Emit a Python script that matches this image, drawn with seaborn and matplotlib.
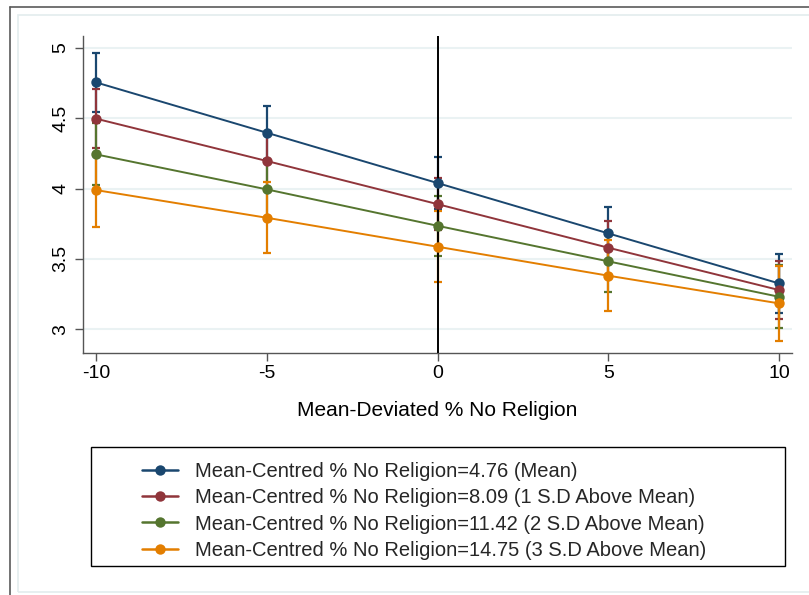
import matplotlib
matplotlib.use("Agg")
import matplotlib.pyplot as plt
from matplotlib.lines import Line2D
from matplotlib.patches import Rectangle
import numpy as np
import pandas as pd
import seaborn as sns

# Predicted values at each level of mean-deviated % no religion
x_levels = [-10, -5, 0, 5, 10]
series_labels = [
    "Mean-Centred % No Religion=4.76 (Mean)",
    "Mean-Centred % No Religion=8.09 (1 S.D Above Mean)",
    "Mean-Centred % No Religion=11.42 (2 S.D Above Mean)",
    "Mean-Centred % No Religion=14.75 (3 S.D Above Mean)",
]
mean_sd0 = [4.755, 4.397, 4.039, 3.681, 3.325]
mean_sd1 = [4.497, 4.196, 3.889, 3.579, 3.278]
mean_sd2 = [4.243, 3.994, 3.735, 3.482, 3.230]
mean_sd3 = [3.989, 3.792, 3.586, 3.380, 3.183]
# Half-widths of the 95% confidence intervals
ci_sd0 = [0.212, 0.190, 0.183, 0.190, 0.208]
ci_sd1 = [0.210, 0.200, 0.183, 0.192, 0.205]
ci_sd2 = [0.220, 0.200, 0.215, 0.216, 0.223]
ci_sd3 = [0.260, 0.254, 0.252, 0.254, 0.266]

means = [mean_sd0, mean_sd1, mean_sd2, mean_sd3]
cis = [ci_sd0, ci_sd1, ci_sd2, ci_sd3]
colors = ["#1a476f", "#90353b", "#55752f", "#e37e00"]

rows = []
for lab, m, c in zip(series_labels, means, cis):
    for xv, mv, cv in zip(x_levels, m, c):
        rows.append({"x": xv, "y": mv, "ci": cv, "series": lab})
df = pd.DataFrame(rows)

sns.set_style("white")
plt.rcParams["font.family"] = ["Liberation Sans", "DejaVu Sans"]

W, H = 809, 595
fig = plt.figure(figsize=(W / 100, H / 100), dpi=100)
fig.patch.set_facecolor("white")

# Graph region borders
fig.add_artist(Line2D([9.5 / W, 9.5 / W], [0, 1 - 7 / H], transform=fig.transFigure,
                      color="#5a5a5a", lw=1.2))
fig.add_artist(Line2D([9.5 / W, 1], [1 - 7 / H, 1 - 7 / H], transform=fig.transFigure,
                      color="#5a5a5a", lw=1.2))
fig.add_artist(Rectangle((17.5 / W, 1 - 592 / H), 1, (592 - 15) / H, transform=fig.transFigure,
                         fill=False, edgecolor="#e3ecee", lw=1.2))

ax = fig.add_axes([83 / W, 1 - 353 / H, (792 - 83) / W, (353 - 36) / H])
ax.set_facecolor("white")

# Confidence intervals underneath the connected lines
for lab, col in zip(series_labels, colors):
    sub = df[df["series"] == lab]
    ax.errorbar(sub["x"], sub["y"], yerr=sub["ci"], fmt="none", ecolor=col,
                elinewidth=1.6, capsize=3, capthick=1.6, zorder=2)

for lab, col in zip(series_labels, colors):
    sub = df[df["series"] == lab]
    sns.lineplot(data=sub, x="x", y="y", ax=ax, color=col, marker="o",
                 markersize=7.5, markeredgewidth=0, linewidth=1.4,
                 label=lab, zorder=4, legend=False)

ax.axvline(0, color="black", lw=1.4, zorder=3)

ax.set_xlim(-10.38, 10.38)
ax.set_ylim(2.83, 5.085)
ax.set_xticks(x_levels)
ax.set_xticklabels(["-10", "-5", "0", "5", "10"])
ax.set_yticks([3, 3.5, 4, 4.5, 5])
ax.set_yticklabels(["3", "3.5", "4", "4.5", "5"], rotation=90, va="center")
ax.yaxis.grid(True, color="#eaf2f3", lw=1.5)
ax.xaxis.grid(False)
ax.set_axisbelow(True)

for s in ["top", "right"]:
    ax.spines[s].set_visible(False)
for s in ["left", "bottom"]:
    ax.spines[s].set_color("#555555")
    ax.spines[s].set_linewidth(1.0)

ax.tick_params(axis="both", which="major", direction="out", length=6, width=1.0,
               color="#555555", labelsize=14, labelcolor="black")
ax.tick_params(axis="x", pad=3)
ax.tick_params(axis="y", pad=4)
ax.tick_params(left=True, bottom=True)

ax.set_xlabel("Mean-Deviated % No Religion", fontsize=15, labelpad=13, color="black")
ax.set_ylabel("")

# Legend box
fig.add_artist(Rectangle((90.5 / W, 1 - 566 / H), (785 - 90.5) / W, (566 - 447) / H,
                         transform=fig.transFigure, fill=False, edgecolor="black", lw=1.0))
handles = [Line2D([], [], color=c, marker="o", markersize=7.5, markeredgewidth=0, lw=1.8)
           for c in colors]
fig.legend(handles, series_labels, loc="upper left",
           bbox_to_anchor=(142 / W, 1 - 462 / H), frameon=False, fontsize=14.5,
           borderpad=0, handlelength=1.8, handletextpad=0.85, labelspacing=0.36,
           borderaxespad=0)

fig.savefig("out.png", dpi=100, facecolor="white")
